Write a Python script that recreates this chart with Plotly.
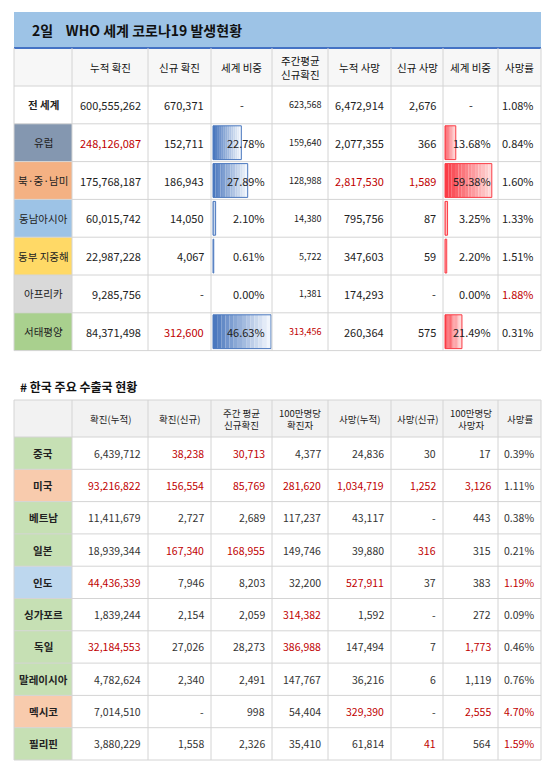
import plotly.graph_objects as go

FONT = "Noto Sans CJK KR"
RED = "#c00000"

# ---------- Table 1 data ----------
t1_title = "2일    WHO 세계 코로나19 발생현황"
t1_headers = ["", "누적 확진", "신규 확진", "세계 비중", "주간평균<br>신규확진", "누적 사망", "신규 사망", "세계 비중", "사망률"]
t1_regions = ["전 세계", "유럽", "북·중·남미", "동남아시아", "동부 지중해", "아프리카", "서태평양"]
t1_region_colors = ["#ffffff", "#8497b0", "#f4b183", "#9dc3e6", "#ffd966", "#d9d9d9", "#a9d08e"]
t1_cum_cases = ["600,555,262", "248,126,087", "175,768,187", "60,015,742", "22,987,228", "9,285,756", "84,371,498"]
t1_new_cases = ["670,371", "152,711", "186,943", "14,050", "4,067", "-", "312,600"]
t1_case_share = [None, 22.78, 27.89, 2.10, 0.61, 0.00, 46.63]
t1_weekly_avg = ["623,568", "159,640", "128,988", "14,380", "5,722", "1,381", "313,456"]
t1_cum_deaths = ["6,472,914", "2,077,355", "2,817,530", "795,756", "347,603", "174,293", "260,364"]
t1_new_deaths = ["2,676", "366", "1,589", "87", "59", "-", "575"]
t1_death_share = [None, 13.68, 59.38, 3.25, 2.20, 0.00, 21.49]
t1_fatality = ["1.08%", "0.84%", "1.60%", "1.33%", "1.51%", "1.88%", "0.31%"]
t1_red = {1: [1], 2: [5, 6], 5: [8], 6: [2, 4]}

# ---------- Table 2 data ----------
t2_title = "# 한국 주요 수출국 현황"
t2_headers = ["", "확진(누적)", "확진(신규)", "주간 평균<br>신규확진", "100만명당<br>확진자", "사망(누적)", "사망(신규)", "100만명당<br>사망자", "사망률"]
t2_countries = ["중국", "미국", "베트남", "일본", "인도", "싱가포르", "독일", "말레이시아", "멕시코", "필리핀"]
t2_country_colors = ["#c6e0b4", "#f8cbad", "#c6e0b4", "#c6e0b4", "#bdd7ee", "#c6e0b4", "#c6e0b4", "#c6e0b4", "#f8cbad", "#c6e0b4"]
t2_cum_cases = ["6,439,712", "93,216,822", "11,411,679", "18,939,344", "44,436,339", "1,839,244", "32,184,553", "4,782,624", "7,014,510", "3,880,229"]
t2_new_cases = ["38,238", "156,554", "2,727", "167,340", "7,946", "2,154", "27,026", "2,340", "-", "1,558"]
t2_weekly_avg = ["30,713", "85,769", "2,689", "168,955", "8,203", "2,059", "28,273", "2,491", "998", "2,326"]
t2_cases_per_m = ["4,377", "281,620", "117,237", "149,746", "32,200", "314,382", "386,988", "147,767", "54,404", "35,410"]
t2_cum_deaths = ["24,836", "1,034,719", "43,117", "39,880", "527,911", "1,592", "147,494", "36,216", "329,390", "61,814"]
t2_new_deaths = ["30", "1,252", "-", "316", "37", "-", "7", "6", "-", "41"]
t2_deaths_per_m = ["17", "3,126", "443", "315", "383", "272", "1,773", "1,119", "2,555", "564"]
t2_fatality = ["0.39%", "1.11%", "0.38%", "0.21%", "1.19%", "0.09%", "0.46%", "0.76%", "4.70%", "1.59%"]
t2_red = {0: [2, 3], 1: [1, 2, 3, 4, 5, 6, 7], 3: [2, 3, 6], 4: [1, 5, 8], 5: [4], 6: [1, 4, 7], 8: [5, 7, 8], 9: [6, 8]}

# ---------- layout geometry ----------
COLS = [14, 72, 148, 211, 272, 328, 391, 443, 498, 541]
GRID = "#d4d4d4"
shapes, ann = [], []


def rect(x0, y0, x1, y1, fill, line=None, lw=0):
    shapes.append(dict(type="rect", xref="x", yref="y", x0=x0, x1=x1, y0=y0, y1=y1,
                       fillcolor=fill, line=dict(width=lw, color=line or fill), layer="below"))


def text(x, y, s, anchor="center", size=11, color="#222", bold=False):
    if bold:
        s = "<b>" + s + "</b>"
    ann.append(dict(x=x, y=y, xref="x", yref="y", text=s, showarrow=False, xanchor=anchor,
                    yanchor="middle", font=dict(family=FONT, size=size, color=color)))


def hline(y, color=GRID, w=1):
    shapes.append(dict(type="line", xref="x", yref="y", x0=COLS[0], x1=COLS[-1], y0=y, y1=y,
                       line=dict(color=color, width=w)))


def vlines(y0, y1):
    for x in COLS:
        shapes.append(dict(type="line", xref="x", yref="y", x0=x, x1=x, y0=y0, y1=y1,
                           line=dict(color=GRID, width=1)))


def gradbar(x0, y0, width, y1, c0, c1, n=14):
    if width <= 0:
        return
    for i in range(n):
        t = i / (n - 1)
        col = "rgb(%d,%d,%d)" % tuple(int(a + (b - a) * t) for a, b in zip(c0, c1))
        rect(x0 + width * i / n, y0, x0 + width * (i + 1) / n, y1, col)
    shapes.append(dict(type="rect", xref="x", yref="y", x0=x0, x1=x0 + width, y0=y0, y1=y1,
                       line=dict(color="rgb(%d,%d,%d)" % c0, width=1), fillcolor="rgba(0,0,0,0)"))


# ---------- Table 1 ----------
rect(COLS[0], 12, COLS[-1], 48, "#9dc3e6")
text(30, 30, t1_title, "left", 14, "#111", True)
rect(COLS[0], 48, COLS[-1], 86, "#f7f7f7")
H1 = 86
RH1 = 37.8
for j, h in enumerate(t1_headers):
    if h:
        text((COLS[j] + COLS[j + 1]) / 2, 67, h, size=10.5, color="#111")
cols1 = [t1_cum_cases, t1_new_cases, None, t1_weekly_avg, t1_cum_deaths, t1_new_deaths, None, t1_fatality]
bmax = max(v for v in t1_case_share if v is not None)
rmax = max(v for v in t1_death_share if v is not None)
for i, reg in enumerate(t1_regions):
    y0 = H1 + i * RH1
    y1 = y0 + RH1
    yc = (y0 + y1) / 2
    rect(COLS[0], y0, COLS[1], y1, t1_region_colors[i])
    text((COLS[0] + COLS[1]) / 2, yc, reg, size=10.5, color="#222", bold=(i == 0))
    reds = t1_red.get(i, [])
    for j in range(1, 9):
        if j in (3, 7):
            v = (t1_case_share if j == 3 else t1_death_share)[i]
            if v is None:
                text((COLS[j] + COLS[j + 1]) / 2, yc, "-", size=11)
                continue
            full = COLS[j + 1] - COLS[j] - 3
            if j == 3:
                gradbar(COLS[j] + 2, y0 + 2, full * v / bmax, y1 - 2, (75, 120, 190), (240, 245, 252))
            else:
                gradbar(COLS[j] + 2, y0 + 2, full * 0.9 * v / rmax, y1 - 2, (250, 60, 70), (255, 215, 215))
            text(COLS[j + 1] - 5, yc, "%.2f%%" % v, "right", 11,
                 RED if j in reds else "#222")
        else:
            s = cols1[j - 1][i]
            size = 9 if j == 4 else 11
            text(COLS[j + 1] - 5, yc, s, "right", size, RED if j in reds else "#222")
    hline(y1)
hline(48, "#4472c4", 2)
hline(H1)
vlines(48, H1 + len(t1_regions) * RH1)

# ---------- Table 2 ----------
text(18, 386, t2_title, "left", 12, "#111", True)
T2 = 400
H2 = 437
rect(COLS[0], T2, COLS[-1], H2, "#f2f2f2")
for j, h in enumerate(t2_headers):
    if h:
        text((COLS[j] + COLS[j + 1]) / 2, (T2 + H2) / 2, h, size=9.5, color="#222")
RH2 = 32.3
cols2 = [t2_cum_cases, t2_new_cases, t2_weekly_avg, t2_cases_per_m, t2_cum_deaths, t2_new_deaths, t2_deaths_per_m, t2_fatality]
for i, c in enumerate(t2_countries):
    y0 = H2 + i * RH2
    y1 = y0 + RH2
    yc = (y0 + y1) / 2
    rect(COLS[0], y0, COLS[1], y1, t2_country_colors[i])
    text((COLS[0] + COLS[1]) / 2, yc, c, size=10.5, color="#222", bold=True)
    reds = t2_red.get(i, [])
    for j in range(1, 9):
        text(COLS[j + 1] - 5, yc, cols2[j - 1][i], "right", 10.5, RED if j in reds else "#333")
    hline(y1)
hline(T2)
hline(H2)
vlines(T2, H2 + len(t2_countries) * RH2)

fig = go.Figure()
fig.update_layout(width=550, height=768, margin=dict(l=0, r=0, t=0, b=0),
                  paper_bgcolor="white", plot_bgcolor="white",
                  xaxis=dict(range=[8, 558], visible=False, fixedrange=True),
                  yaxis=dict(range=[776, 8], visible=False, fixedrange=True),
                  shapes=shapes, annotations=ann, showlegend=False)
fig.write_html("out.html", config={"displayModeBar": False})
